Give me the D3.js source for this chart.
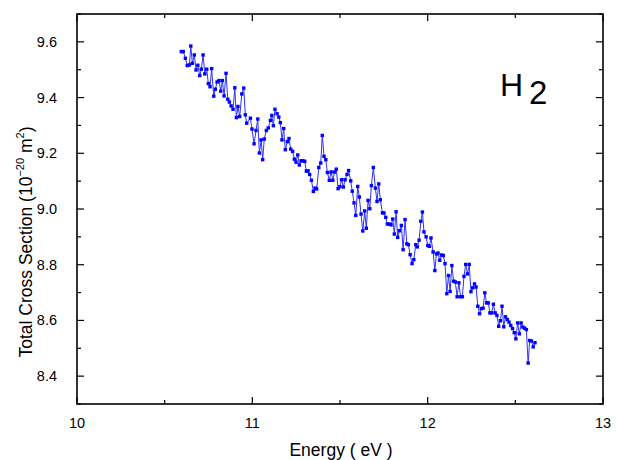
<!DOCTYPE html>
<html>
<head>
<meta charset="utf-8">
<script src="https://cdn.jsdelivr.net/npm/d3@7"></script>
<style>
  body { margin: 0; background: #fff; }
  text { font-family: "Liberation Sans", Arial, sans-serif; }
</style>
</head>
<body>
<script>
// energy (eV) and total cross section (1e-20 m^2)
const energy = [
  10.595,10.606,10.618,10.629,10.641,10.649,10.658,10.669,10.679,10.689,
  10.700,10.709,10.719,10.729,10.740,10.749,10.759,10.768,10.780,10.789,
  10.799,10.810,10.820,10.829,10.839,10.850,10.860,10.869,10.879,10.890,
  10.900,10.909,10.918,10.928,10.940,10.951,10.960,10.968,10.989,10.998,
  11.010,11.021,11.031,11.040,11.050,11.059,11.068,11.080,11.091,11.103,
  11.111,11.120,11.129,11.141,11.151,11.160,11.169,11.179,11.188,11.200,
  11.209,11.219,11.230,11.240,11.249,11.259,11.268,11.278,11.289,11.299,
  11.308,11.318,11.327,11.337,11.348,11.358,11.367,11.379,11.390,11.399,
  11.409,11.419,11.428,11.439,11.449,11.459,11.469,11.479,11.489,11.499,
  11.509,11.519,11.529,11.540,11.549,11.561,11.570,11.580,11.590,11.601,
  11.610,11.620,11.630,11.641,11.650,11.660,11.670,11.679,11.690,11.702,
  11.711,11.721,11.730,11.742,11.751,11.761,11.770,11.782,11.791,11.801,
  11.810,11.820,11.829,11.839,11.850,11.860,11.871,11.881,11.890,11.900,
  11.911,11.921,11.932,11.941,11.951,11.961,11.970,11.979,11.991,12.001,
  12.010,12.019,12.031,12.041,12.050,12.059,12.069,12.079,12.089,12.099,
  12.109,12.119,12.128,12.138,12.148,12.158,12.168,12.178,12.188,12.198,
  12.207,12.217,12.227,12.237,12.247,12.257,12.267,12.276,12.286,12.296,
  12.306,12.316,12.326,12.336,12.346,12.355,12.365,12.375,12.385,12.395,
  12.405,12.415,12.424,12.434,12.444,12.454,12.464,12.474,12.484,12.494,
  12.503,12.513,12.523,12.533,12.543,12.553,12.563,12.573,12.582,12.592,
  12.602,12.612
];
const crossSection = [
  9.565,9.565,9.541,9.515,9.517,9.585,9.523,9.553,9.499,9.516,
  9.479,9.502,9.553,9.485,9.502,9.450,9.439,9.504,9.405,9.430,
  9.456,9.461,9.423,9.461,9.406,9.487,9.394,9.384,9.370,9.358,
  9.435,9.328,9.368,9.332,9.413,9.434,9.338,9.308,9.326,9.287,
  9.234,9.282,9.323,9.201,9.248,9.177,9.251,9.282,9.291,9.318,
  9.336,9.299,9.358,9.342,9.330,9.310,9.248,9.289,9.213,9.242,
  9.253,9.215,9.207,9.179,9.168,9.194,9.158,9.173,9.173,9.171,
  9.136,9.137,9.124,9.103,9.063,9.075,9.072,9.149,9.165,9.264,
  9.189,9.177,9.131,9.103,9.133,9.103,9.133,9.143,9.073,9.080,
  9.105,9.079,9.105,9.124,9.138,9.101,9.064,9.022,8.977,9.081,
  9.043,8.982,8.921,8.993,8.931,9.031,9.001,9.084,9.149,9.075,
  9.027,9.090,9.033,8.986,8.986,8.970,8.946,8.946,8.943,8.964,
  8.910,8.990,8.898,8.922,8.941,8.854,8.962,8.875,8.872,8.836,
  8.804,8.818,8.872,8.864,8.888,8.956,8.989,8.918,8.900,8.869,
  8.866,8.896,8.846,8.779,8.839,8.842,8.816,8.835,8.833,8.804,
  8.696,8.761,8.704,8.797,8.741,8.738,8.685,8.735,8.685,8.685,
  8.758,8.801,8.767,8.801,8.703,8.717,8.731,8.720,8.651,8.624,
  8.642,8.644,8.699,8.663,8.663,8.627,8.627,8.658,8.627,8.618,
  8.579,8.599,8.651,8.577,8.613,8.603,8.594,8.582,8.571,8.556,
  8.534,8.591,8.552,8.591,8.576,8.572,8.567,8.447,8.528,8.526,
  8.505,8.520
];
const xTicks = [10, 11, 12, 13];
const yTicks = [8.4, 8.6, 8.8, 9.0, 9.2, 9.4, 9.6];

const width = 622, height = 460;
const margin = {top: 14, right: 19, bottom: 56, left: 77};

const data = energy.map((e, i) => ({x: e, y: crossSection[i]}));

const x = d3.scaleLinear()
    .domain([10, 13])
    .range([margin.left, width - margin.right]);
const y = d3.scaleLinear()
    .domain([8.3, 9.7])
    .range([height - margin.bottom, margin.top]);

const svg = d3.select("body").append("svg")
    .attr("width", width)
    .attr("height", height);

const xMinor = d3.range(10, 13.01, 0.5);
const yMinor = d3.range(8.3, 9.71, 0.1).map(v => +v.toFixed(1));

// ticks pointing into the frame on all four sides
const tickG = svg.append("g").attr("stroke", "#000").attr("stroke-width", 1.2);
tickG.selectAll(".xb").data(xMinor).join("line")
    .attr("x1", d => x(d)).attr("x2", d => x(d))
    .attr("y1", y(8.3)).attr("y2", d => y(8.3) - (Number.isInteger(d) ? 7 : 4));
tickG.selectAll(".xt").data(xMinor).join("line")
    .attr("x1", d => x(d)).attr("x2", d => x(d))
    .attr("y1", y(9.7)).attr("y2", d => y(9.7) + (Number.isInteger(d) ? 7 : 4));
const isMajorY = d => Math.round(d * 10) % 2 === 0;
tickG.selectAll(".yl").data(yMinor).join("line")
    .attr("y1", d => y(d)).attr("y2", d => y(d))
    .attr("x1", x(10)).attr("x2", d => x(10) + (isMajorY(d) ? 7 : 4));
tickG.selectAll(".yr").data(yMinor).join("line")
    .attr("y1", d => y(d)).attr("y2", d => y(d))
    .attr("x1", x(13)).attr("x2", d => x(13) - (isMajorY(d) ? 7 : 4));

svg.append("rect")
    .attr("x", x(10)).attr("y", y(9.7))
    .attr("width", x(13) - x(10)).attr("height", y(8.3) - y(9.7))
    .attr("fill", "none").attr("stroke", "#000").attr("stroke-width", 1.6);

svg.append("g")
    .attr("font-size", 14.5)
  .selectAll("text")
  .data(xTicks)
  .join("text")
    .attr("x", d => x(d))
    .attr("y", y(8.3) + 24)
    .attr("text-anchor", "middle")
    .text(d => d);

svg.append("g")
    .attr("font-size", 14.5)
  .selectAll("text")
  .data(yTicks)
  .join("text")
    .attr("x", x(10) - 20)
    .attr("y", d => y(d) + 5)
    .attr("text-anchor", "end")
    .text(d => d.toFixed(1));

// data line + square markers
svg.append("path")
    .datum(data)
    .attr("fill", "none")
    .attr("stroke", "#3030ff")
    .attr("stroke-width", 1)
    .attr("d", d3.line().x(d => x(d.x)).y(d => y(d.y)));

svg.append("g")
    .attr("fill", "#0000ff")
  .selectAll("rect")
  .data(data)
  .join("rect")
    .attr("x", d => x(d.x) - 1.7)
    .attr("y", d => y(d.y) - 1.7)
    .attr("width", 3.4)
    .attr("height", 3.4);

// axis titles
svg.append("text")
    .attr("x", 341)
    .attr("y", 456)
    .attr("text-anchor", "middle")
    .attr("font-size", 17.5)
    .text("Energy ( eV )");

const yt = svg.append("text")
    .attr("transform", "translate(32,242) rotate(-90)")
    .attr("text-anchor", "middle")
    .attr("font-size", 17.5);
yt.append("tspan").text("Total Cross Section (10");
yt.append("tspan").attr("dy", -8).attr("font-size", 11).text("−20");
yt.append("tspan").attr("dy", 8).text(" m");
yt.append("tspan").attr("dy", -8).attr("font-size", 11).text("2");
yt.append("tspan").attr("dy", 8).text(")");

svg.append("text")
    .attr("x", 500)
    .attr("y", 96)
    .attr("font-size", 32)
    .text("H");
svg.append("text")
    .attr("x", 529)
    .attr("y", 104)
    .attr("font-size", 33)
    .text("2");
</script>
</body>
</html>
